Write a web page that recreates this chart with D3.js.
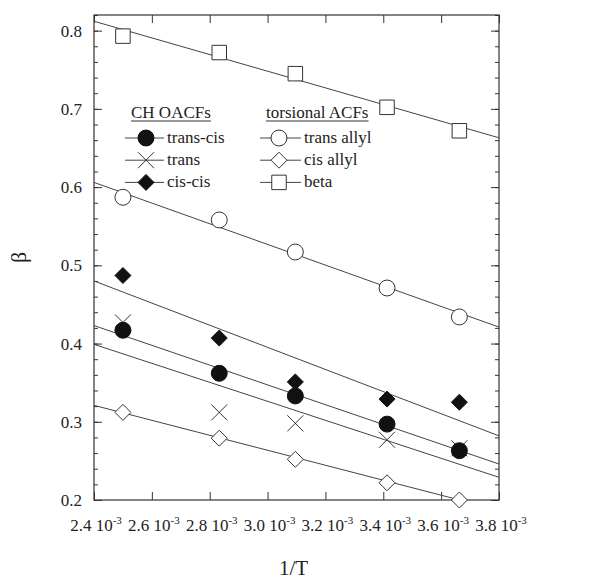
<!DOCTYPE html>
<html>
<head>
<meta charset="utf-8">
<script src="https://cdn.jsdelivr.net/npm/d3@7"></script>
<style>
	body { margin: 0; background: #fff; }
	svg text { font-family: "Liberation Serif", "Times New Roman", serif; fill: #222; }
</style>
</head>
<body>
<script>
// 1/T values (units of 10^-3 K^-1)
let invT = 		[2.50, 2.833, 3.096, 3.413, 3.663]

let transCis = 	[0.417, 0.362, 0.333, 0.297, 0.263]
let trans = 	[0.427, 0.312, 0.298, 0.277, 0.266]
let cisCis = 	[0.487, 0.407, 0.351, 0.329, 0.325]
let transAllyl = [0.587, 0.558, 0.517, 0.471, 0.434]
let cisAllyl = 	[0.312, 0.279, 0.252, 0.222, 0.200]
let beta = 		[0.793, 0.772, 0.745, 0.702, 0.672]

// fit lines, value at 1/T = 2.4 and 3.8
let fitX = 		[2.4, 3.8]
let fitBeta = 		[0.812, 0.663]
let fitTransAllyl = [0.606, 0.421]
let fitCisCis = 	[0.480, 0.282]
let fitTransCis = 	[0.423, 0.246]
let fitTrans = 		[0.399, 0.229]
let fitCisAllyl = 	[0.321, 0.187]

let xTicks = 	[2.4, 2.6, 2.8, 3.0, 3.2, 3.4, 3.6, 3.8]
let yTicks = 	[0.2, 0.3, 0.4, 0.5, 0.6, 0.7, 0.8]

let W = 613, H = 580
let L = 94, R = 499, T = 15, B = 500
let FONT = '"Liberation Serif", "Times New Roman", serif'

let svg = d3.select('body').append('svg').attr('width', W).attr('height', H)
	.attr('font-family', FONT)

let x = d3.scaleLinear().domain([2.4, 3.8]).range([L, R])
let y = d3.scaleLinear().domain([0.2, 0.82]).range([B, T])

let clip = svg.append('clipPath').attr('id', 'plotClip')
clip.append('rect').attr('x', L).attr('y', T).attr('width', R - L).attr('height', B - T)

// frame
svg.append('rect').attr('x', L).attr('y', T).attr('width', R - L).attr('height', B - T)
	.attr('fill', 'none').attr('stroke', '#333').attr('stroke-width', 1.2)

let minorY = d3.range(0.2, 0.821, 0.02).map(v => +v.toFixed(2))

// y axis (inside ticks)
let yl = svg.append('g').attr('transform', `translate(${L},0)`)
	.call(d3.axisRight(y).tickValues(minorY).tickSize(4).tickFormat(''))
yl.select('.domain').remove()
let ylM = svg.append('g').attr('transform', `translate(${L},0)`)
	.call(d3.axisRight(y).tickValues(yTicks).tickSize(8).tickFormat(''))
ylM.select('.domain').remove()
let yr = svg.append('g').attr('transform', `translate(${R},0)`)
	.call(d3.axisLeft(y).tickValues(minorY).tickSize(4).tickFormat(''))
yr.select('.domain').remove()
let yrM = svg.append('g').attr('transform', `translate(${R},0)`)
	.call(d3.axisLeft(y).tickValues(yTicks).tickSize(8).tickFormat(''))
yrM.select('.domain').remove()

// x axis (inside ticks)
let xb = svg.append('g').attr('transform', `translate(0,${B})`)
	.call(d3.axisTop(x).tickValues(xTicks).tickSize(8).tickFormat(''))
xb.select('.domain').remove()
let xt = svg.append('g').attr('transform', `translate(0,${T})`)
	.call(d3.axisBottom(x).tickValues(xTicks).tickSize(8).tickFormat(''))
xt.select('.domain').remove()
svg.selectAll('.tick line').attr('stroke', '#333')

// tick labels
svg.append('g').selectAll('text').data(yTicks).join('text')
	.attr('font-family', FONT)
	.attr('x', L - 12).attr('y', d => y(d) + 6)
	.attr('text-anchor', 'end').attr('font-size', 17)
	.text(d => d.toFixed(1))

let xl = svg.append('g').selectAll('text').data(xTicks).join('text')
	.attr('font-family', FONT)
	.attr('x', d => x(d) + 2).attr('y', 531)
	.attr('text-anchor', 'middle').attr('font-size', 17)
xl.append('tspan').text(d => d.toFixed(1) + ' 10')
xl.append('tspan').attr('font-size', 11).attr('dy', -7).text('-3')

// axis titles
svg.append('text').attr('font-family', FONT).attr('x', (L + R) / 2 - 3).attr('y', 575)
	.attr('text-anchor', 'middle').attr('font-size', 21).text('1/T')
svg.append('text').attr('font-family', FONT)
	.attr('transform', `translate(26,${(T + B) / 2}) rotate(-90)`)
	.attr('text-anchor', 'middle').attr('font-size', 22).text('β')

// fit lines
let fits = [fitBeta, fitTransAllyl, fitCisCis, fitTransCis, fitTrans, fitCisAllyl]
let line = d3.line().x(d => x(d[0])).y(d => y(d[1]))
svg.append('g').attr('clip-path', 'url(#plotClip)')
	.selectAll('path').data(fits).join('path')
	.attr('d', f => line(fitX.map((v, i) => [v, f[i]])))
	.attr('fill', 'none').attr('stroke', '#444').attr('stroke-width', 1)

// markers
let paths = {
	circle: d3.symbol().type(d3.symbolCircle).size(200)(),
	square: d3.symbol().type(d3.symbolSquare).size(210)(),
	diamond: 'M0,-8L8,0L0,8L-8,0Z',
	cross: 'M-8,-8L8,8M-8,8L8,-8'
}
function drawMarker(g, kind, fill) {
	if (kind == 'cross') {
		return g.append('path').attr('d', paths.cross)
			.attr('fill', 'none').attr('stroke', '#333').attr('stroke-width', 1)
	}
	return g.append('path').attr('d', paths[kind])
		.attr('fill', fill ? '#111' : '#fff')
		.attr('stroke', fill ? '#111' : '#333').attr('stroke-width', 1)
}

let series = [
	{label: 'trans allyl', v: transAllyl, kind: 'circle', fill: false},
	{label: 'cis allyl', v: cisAllyl, kind: 'diamond', fill: false},
	{label: 'beta', v: beta, kind: 'square', fill: false},
	{label: 'cis-cis', v: cisCis, kind: 'diamond', fill: true},
	{label: 'trans', v: trans, kind: 'cross', fill: false},
	{label: 'trans-cis', v: transCis, kind: 'circle', fill: true}
]

let pts = svg.append('g')
for (let s of series) {
	s.v.forEach((v, i) => {
		let g = pts.append('g').attr('transform', `translate(${x(invT[i])},${y(v)})`)
		drawMarker(g, s.kind, s.fill)
	})
}

// legend
let legend = svg.append('g')
let cols = [
	{title: 'CH OACFs', tx: 131, lx0: 125, lx1: 164, mx: 146, items: [series[5], series[4], series[3]]},
	{title: 'torsional ACFs', tx: 266, lx0: 260, lx1: 301, mx: 279, items: [series[0], series[1], series[2]]}
]
for (let c of cols) {
	let t = legend.append('text').attr('font-family', FONT)
		.attr('x', c.tx).attr('y', 118).attr('font-size', 17).text(c.title)
	let w = t.node().getComputedTextLength()
	legend.append('line').attr('x1', c.tx).attr('x2', c.tx + w).attr('y1', 121).attr('y2', 121)
		.attr('stroke', '#333').attr('stroke-width', 1)
	c.items.forEach((s, i) => {
		let yy = 138 + i * 22.2
		legend.append('line').attr('x1', c.lx0).attr('x2', c.lx1).attr('y1', yy).attr('y2', yy)
			.attr('stroke', '#444').attr('stroke-width', 1)
		let g = legend.append('g').attr('transform', `translate(${c.mx},${yy})`)
		drawMarker(g, s.kind, s.fill)
		legend.append('text').attr('font-family', FONT)
			.attr('x', c.lx1 + 3).attr('y', yy + 5).attr('font-size', 17).text(s.label)
	})
}
</script>
</body>
</html>
